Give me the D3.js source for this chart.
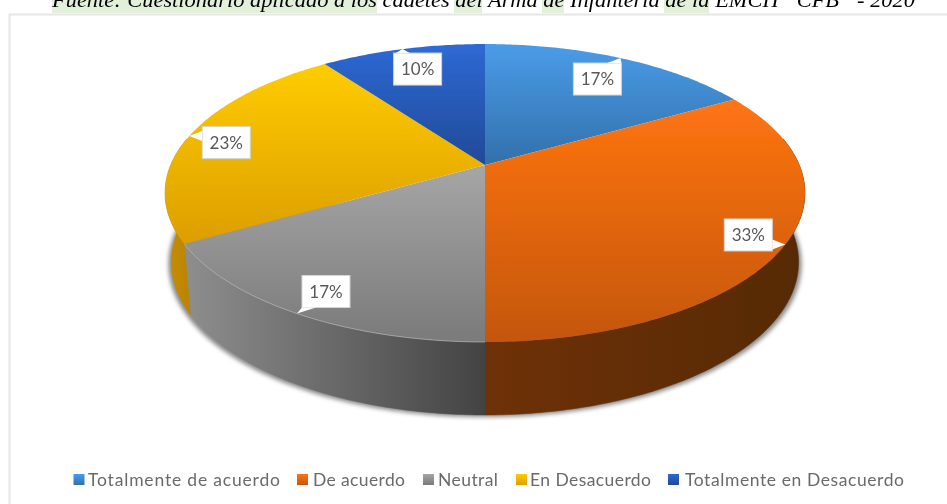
<!DOCTYPE html>
<html><head><meta charset="utf-8">
<script src="https://cdn.jsdelivr.net/npm/d3@7"></script>
<style>html,body{margin:0;padding:0;background:#fff;overflow:hidden}svg{display:block}</style>
</head><body><svg id="c" width="947" height="504"></svg>
<script>
// Data
const categories = ["Totalmente de acuerdo","De acuerdo","Neutral","En Desacuerdo","Totalmente en Desacuerdo"];
const values = [16.7,33.3,16.7,23.3,10];
const sourceText = "Fuente: Cuestionario aplicado a los cadetes del Arma de Infantería de la EMCH \u201CCFB\u201D - 2020";

// Styles
const topColors = [["#4a9ce8","#3270ab"],["#ff7512","#c4560c"],["#a6a6a6","#7a7a7a"],["#ffcc00","#dc9e00"],["#2e69d4","#1f4a97"]];
const wallColors = [["#3270ab","#3270ab"],["#6f3108","#552a04"],["#8e8e8e","#434343"],["#c98f00","#b98300"],["#1f4a97","#1f4a97"]];
const labelOffsets = [[-23,21],[-37,-9.5],[29,-22],[37,6.5],[15,20]];
const legendSlots = [[73.5,88,192],[297,313,92],[423,438,60],[516,530,121],[668,685,219]];
const highlights = [[52,377],[454,482],[542,564],[664,709]];

const svg = d3.select("#c");
const defs = svg.append("defs");
const blur = (id,s)=>defs.append("filter").attr("id",id).attr("x","-10%").attr("y","-10%").attr("width","120%").attr("height","120%")
  .append("feGaussianBlur").attr("stdDeviation",s);
blur("soft",2.2); blur("txt",0.45); blur("edge",0.4);

// Perspective disc: unit circle -> screen
const cx=485, cy=165, A=314.3, B=143.7, k=0.188;
const project = t => { const u=Math.sin(t), v=-Math.cos(t), w=1-k*v; return [cx+A*u/w, cy+B*v/w]; };
const projectLow = t => { const p=project(t), v=-Math.cos(t); return [cx+(p[0]-cx)*0.98, p[1]+68+5*v]; };
const line = d3.line();
const sample = (a,b)=>{ const n=Math.max(2,Math.ceil((b-a)/0.012)); return d3.range(n+1).map(i=>a+(b-a)*i/n); };

const arcs = d3.pie().sort(null).value(d=>d)(values);
const wallMin = Math.PI/2-0.19, wallMax = 3*Math.PI/2+0.19;

// Source line
const hl = svg.append("g");
hl.selectAll("rect").data(highlights).join("rect")
  .attr("x",d=>d[0]).attr("y",0).attr("width",d=>d[1]-d[0]).attr("height",13).attr("fill","#e2f0d9");
svg.append("text").text(sourceText).attr("x",52).attr("y",7)
  .attr("textLength",863).attr("lengthAdjust","spacingAndGlyphs")
  .attr("font-family","Liberation Serif").attr("font-style","italic").attr("font-size",20)
  .attr("fill","#000").attr("filter","url(#txt)");

// Frame
svg.append("path").attr("d",line([[9.5,504],[9.5,14.5],[947,14.5]]))
  .attr("fill","none").attr("stroke","#e6e6e6").attr("stroke-width",2);

// Gradients
arcs.forEach((a,i)=>{
  const g=defs.append("linearGradient").attr("id","top"+i).attr("x1",0).attr("x2",0).attr("y1",0).attr("y2",1);
  g.append("stop").attr("offset",0).attr("stop-color",topColors[i][0]);
  g.append("stop").attr("offset",1).attr("stop-color",topColors[i][1]);
  const w=defs.append("linearGradient").attr("id","wall"+i).attr("x1",0).attr("x2",1).attr("y1",0).attr("y2",0);
  w.append("stop").attr("offset",0).attr("stop-color",wallColors[i][0]);
  w.append("stop").attr("offset",1).attr("stop-color",wallColors[i][1]);
});

// Shadow
const all = sample(wallMin,wallMax);
svg.append("path").attr("d",line(all.map(projectLow).map(p=>[p[0]+(p[0]>cx?3:-3),p[1]+2]).concat([[cx,200]]))+"Z")
  .attr("fill","#8a8a8a").attr("filter","url(#soft)");

// Walls
const walls = svg.append("g");
arcs.forEach((a,i)=>{
  const s=Math.max(a.startAngle,wallMin), e=Math.min(a.endAngle,wallMax);
  if(e<=s) return;
  const ts=sample(s,e);
  walls.append("path").attr("d",line(ts.map(project).concat(ts.slice().reverse().map(projectLow)))+"Z")
    .attr("fill",`url(#wall${i})`).attr("stroke",`url(#wall${i})`).attr("stroke-width",0.5);
});

// Top slices
const tops = svg.append("g");
arcs.forEach((a,i)=>{
  tops.append("path").attr("d",line([[cx,cy]].concat(sample(a.startAngle,a.endAngle).map(project)))+"Z")
    .attr("fill",`url(#top${i})`).attr("filter","url(#edge)");
});
// Rim highlight on front edge
svg.append("path").attr("d",line(sample(Math.PI,arcs[2].endAngle).map(project)))
  .attr("fill","none").attr("stroke","#b9b9b9").attr("stroke-width",1).attr("opacity",0.7);

// Callout labels
const bw=48, bh=32;
const lab = svg.append("g");
arcs.forEach((a,i)=>{
  const tip=project((a.startAngle+a.endAngle)/2);
  const c=[tip[0]+labelOffsets[i][0],tip[1]+labelOffsets[i][1]];
  const x0=c[0]-bw/2,y0=c[1]-bh/2,x1=c[0]+bw/2,y1=c[1]+bh/2;
  const bx=Math.max(x0,Math.min(x1,tip[0])), by=Math.max(y0,Math.min(y1,tip[1]));
  const ox=Math.abs(tip[0]-bx), oy=Math.abs(tip[1]-by);
  let tri;
  if(ox>oy){
    const yy=Math.max(y0+5,Math.min(y1-5,by));
    tri=[tip,[bx,yy-5],[bx,yy+5]];
  } else {
    const xx=Math.max(x0+7,Math.min(x1-7,bx));
    tri=[tip,[xx-7,by],[xx+7,by]];
  }
  lab.append("rect").attr("x",x0).attr("y",y0).attr("width",bw).attr("height",bh)
    .attr("fill","#fff").attr("stroke","#d4d4d4").attr("stroke-width",1);
  lab.append("path").attr("d",line(tri)+"Z").attr("fill","#fff");
  lab.append("text").text(d3.format(".0%")(a.value/d3.sum(values)))
    .attr("x",c[0]).attr("y",c[1]+6).attr("text-anchor","middle")
    .attr("font-family","Lato").attr("font-size",17).attr("fill","#595959").attr("filter","url(#txt)");
});

// Legend
const leg = svg.append("g");
categories.forEach((name,i)=>{
  const s=legendSlots[i];
  const g=defs.append("linearGradient").attr("id","lg"+i).attr("x1",0).attr("x2",0).attr("y1",0).attr("y2",1);
  g.append("stop").attr("offset",0).attr("stop-color",topColors[i][0]);
  g.append("stop").attr("offset",1).attr("stop-color",topColors[i][1]);
  leg.append("rect").attr("x",s[0]).attr("y",474).attr("width",11).attr("height",11).attr("fill",`url(#lg${i})`);
  leg.append("text").text(name).attr("x",s[1]).attr("y",485.5)
    .attr("textLength",s[2]).attr("lengthAdjust","spacing")
    .attr("font-family","Lato").attr("font-size",17.5).attr("fill","#6a6a6a").attr("filter","url(#txt)");
});
</script></body></html>
